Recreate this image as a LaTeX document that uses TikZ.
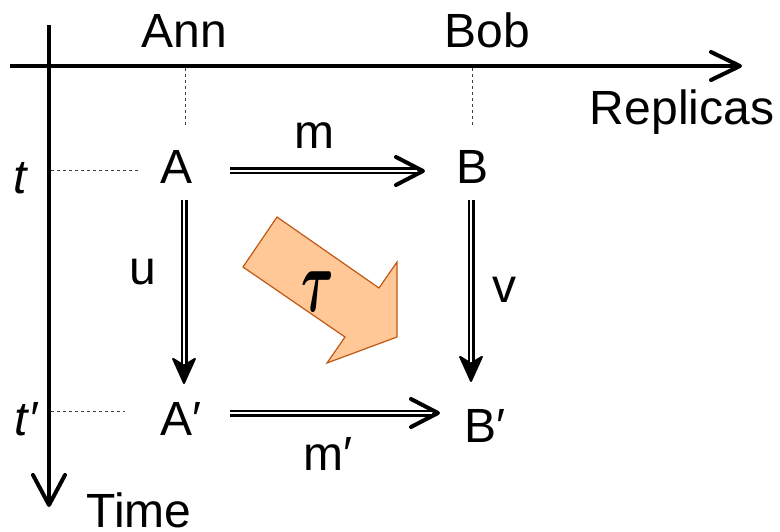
\documentclass[tikz,border=0pt]{standalone}
\usepackage{amsmath}
\usepackage{graphicx}
\usepackage{fontspec}
\setmainfont{Liberation Sans}
\usetikzlibrary{arrows.meta}
\definecolor{ArrowFill}{RGB}{255,200,150}
\definecolor{ArrowEdge}{RGB}{192,88,20}

\begin{document}
\begin{tikzpicture}[x=0.5pt, y=-0.5pt]
\useasboundingbox (0,0) rectangle (780,531);

\coordinate (X_1) at (10,66);
\coordinate (X_2) at (742,66);
\coordinate (Y_1) at (49,25);
\coordinate (Y_2) at (49,507);
\coordinate (D1_1) at (185,68);
\coordinate (D1_2) at (185,125);
\coordinate (D2_1) at (472,68);
\coordinate (D2_2) at (472,125);
\coordinate (D3_1) at (51,170);
\coordinate (D3_2) at (138,170);
\coordinate (D4_1) at (51,411);
\coordinate (D4_2) at (125,411);
\coordinate (P1) at (277,217);
\coordinate (P2) at (379,288);
\coordinate (P3) at (397,262);
\coordinate (P4) at (397,337);
\coordinate (P5) at (327,363);
\coordinate (P6) at (345,337);
\coordinate (P7) at (243,267);


\filldraw[fill=ArrowFill, draw=ArrowEdge, line width=0.6pt, line join=miter]
  (P1) -- (P2) -- (P3) -- (P4) -- (P5) -- (P6) -- (P7) -- cycle;
\node[font=\fontsize{38}{38}\selectfont] (Tau) at (318,292) {\scalebox{1}[1.8]{$\boldsymbol{\tau}$}};


\tikzset{AxisStyle/.style = {line width=2pt} }
\tikzset{DashStyle/.style = {line width=0.5pt, black!75, dash pattern=on 1.5pt off 1.5pt} }

\draw[AxisStyle, -{Straight Barb[length=14.5pt, width=14pt, round]}] (X_1) -- (X_2);
\draw[AxisStyle, -{Straight Barb[length=15pt, width=16pt, round]}] (Y_1) -- (Y_2);
\draw[DashStyle] (D1_1) -- (D1_2);
\draw[DashStyle] (D2_1) -- (D2_2);
\draw[DashStyle] (D3_1) -- (D3_2);
\draw[DashStyle] (D4_1) -- (D4_2);


\tikzset{LabelStyle/.style = {
 font = \fontsize{24}{24}\selectfont,
 anchor = base,
 inner sep = 0pt,
 outer sep = 0pt} }

\node[LabelStyle] (Ann) at (184,47) {Ann};
\node[LabelStyle] (Bob) at (487,47) {Bob};
\node[LabelStyle] (Rep) at (682,124) {Replicas};
\node[LabelStyle] (Time) at (139,527) {Time};
\node[LabelStyle] (T1) at (20,193) {\itshape t};
\node[LabelStyle] (T2) at (26,435) {\itshape t′};
\node[LabelStyle] (A) at (177,183) {A};
\node[LabelStyle] (B) at (472,183) {B};
\node[LabelStyle] (A2) at (181,435) {A′};
\node[LabelStyle] (B2) at (485,442) {B′};
\node[LabelStyle] (M) at (314,148) {m};
\node[LabelStyle] (M2) at (328,470) {m′};
\node[LabelStyle] (U) at (143,284) {u};
\node[LabelStyle] (V) at (504,302) {v};


\tikzset{HeadStyle/.style = {line width=0.5pt, -{Straight Barb[length=13.5pt, width=14pt, line width=2pt, round]}} }
\tikzset{HeadDownStyle/.style = {line width=0.5pt, -{Stealth[length=14.5pt, width=13pt, inset=4pt, line width=1pt, round]}} }
\tikzset{DoubleStyle/.style = {line width=1.2pt, double distance=1.1pt, double=white} }

\draw[HeadStyle, shorten <=18.5pt, shorten >=15.5pt] ([yshift=-2.25pt]A.east) -- ([yshift=-2.25pt]B.west);
\draw[DoubleStyle, shorten <=18.5pt, shorten >=19.5pt] ([yshift=-2.25pt]A.east) -- ([yshift=-2.25pt]B.west);
\draw[HeadStyle, shorten <=14.25pt, shorten >=12.25pt] ([yshift=2.75pt]A2.east) -- ([yshift=6.25pt]B2.west);
\draw[DoubleStyle, shorten <=14.25pt, shorten >=16.25pt] ([yshift=2.75pt]A2.east) -- ([yshift=6.25pt]B2.west);
\draw[HeadDownStyle, shorten <=8.5pt, shorten >=9pt] ([xshift=3.5pt]A.south) -- ([xshift=1.5pt]A2.north);
\draw[DoubleStyle, shorten <=8.5pt, shorten >=19pt] ([xshift=3.5pt]A.south) -- ([xshift=1.5pt]A2.north);
\draw[HeadDownStyle, shorten <=8.5pt, shorten >=13.5pt] ([xshift=-0.5pt]B.south) -- ([xshift=-7pt]B2.north);
\draw[DoubleStyle, shorten <=8.5pt, shorten >=23.5pt] ([xshift=-0.5pt]B.south) -- ([xshift=-7pt]B2.north);

\end{tikzpicture}
\end{document}
